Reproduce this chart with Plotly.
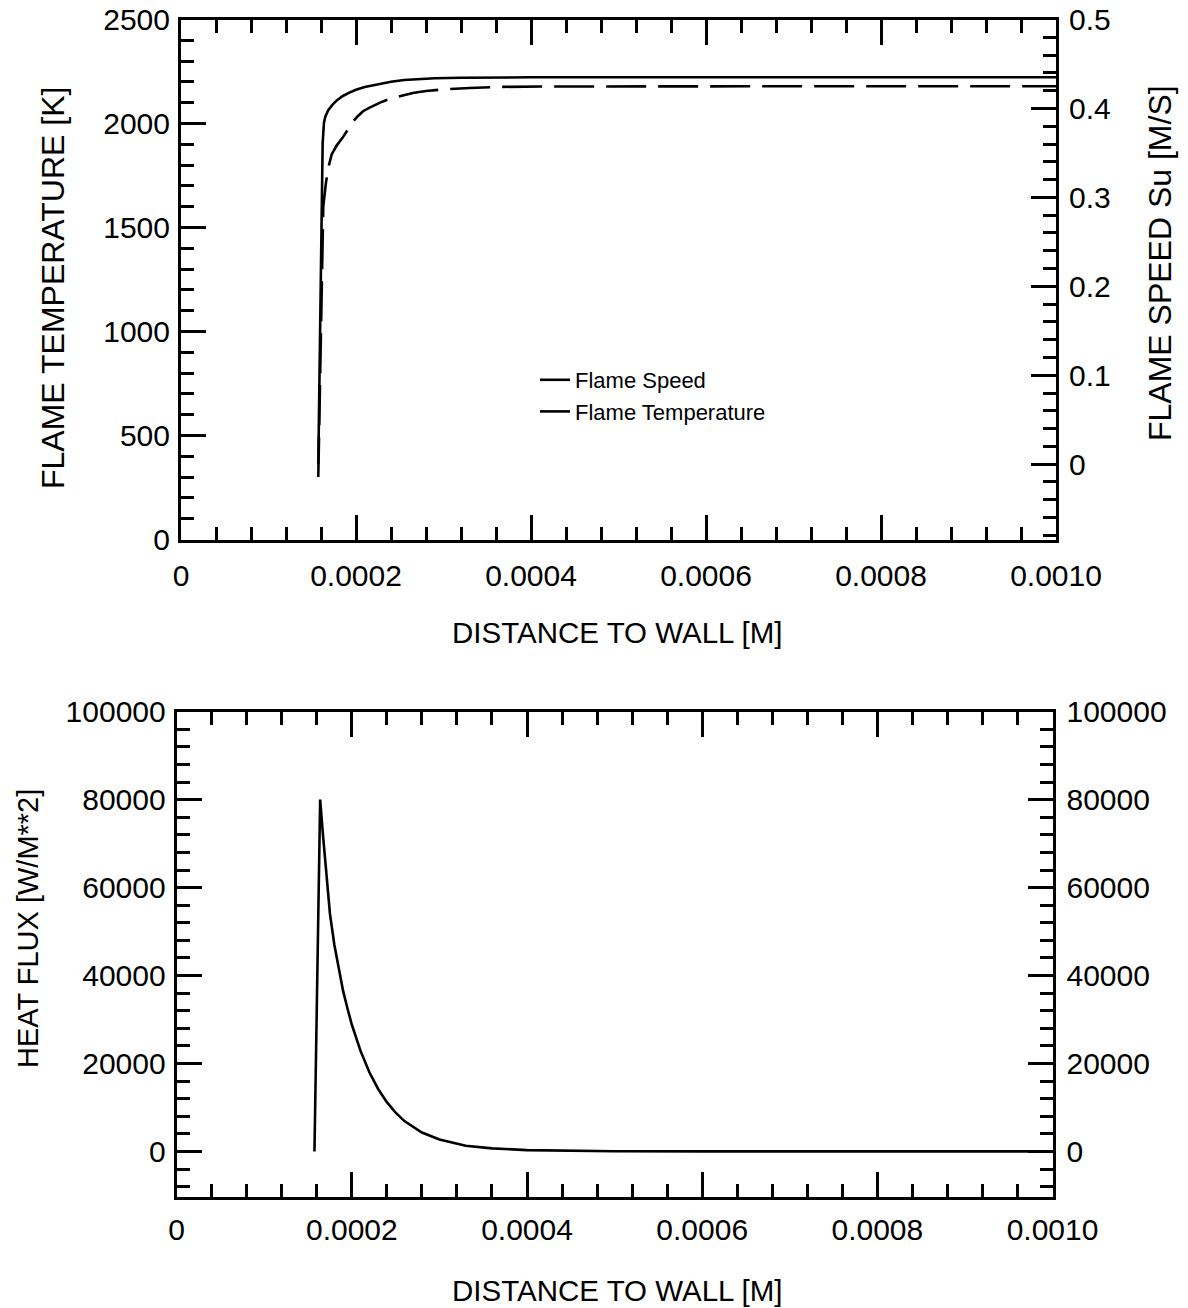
import plotly.graph_objects as go

# ---------------- data ----------------
# Top panel: flame speed (right axis, m/s) and flame temperature (left axis, K)
dist_speed = [0.0001569, 0.0001589, 0.0001608, 0.0001619, 0.0001634, 0.0001650,
              0.0001683, 0.0001730, 0.0001780, 0.0001850, 0.0001930, 0.0002000,
              0.0002100, 0.0002250, 0.0002400, 0.0002550, 0.0002700, 0.0002900,
              0.0003200, 0.0003600, 0.0004000, 0.0006000, 0.0008000, 0.0010000]
flame_speed = [0.000, 0.136, 0.286, 0.361, 0.384, 0.391,
               0.398, 0.404, 0.409, 0.414, 0.418, 0.421,
               0.424, 0.427, 0.430, 0.432, 0.433, 0.434,
               0.4345, 0.435, 0.435, 0.435, 0.435, 0.435]

dist_temp = [0.0001569, 0.0001594, 0.0001626, 0.0001655, 0.0001683, 0.0001722,
             0.0001780, 0.0001846, 0.0001900, 0.0001969, 0.0002020, 0.0002080,
             0.0002150, 0.0002220, 0.0002300, 0.0002400, 0.0002500, 0.0002650,
             0.0002800, 0.0003000, 0.0003300, 0.0003650, 0.0004200, 0.0005000,
             0.0007000, 0.0010000]
flame_temp = [300, 950, 1600, 1710, 1787, 1851,
              1895, 1931, 1965, 2011, 2035, 2059,
              2075, 2090, 2105, 2120, 2132, 2147,
              2156, 2164, 2171, 2176, 2178, 2179,
              2179, 2179]

# Bottom panel: heat flux (W/m^2)
dist_flux = [0.0001573, 0.0001638, 0.0001670, 0.0001700, 0.0001750, 0.0001800,
             0.0001850, 0.0001900, 0.0001950, 0.0002000, 0.0002100, 0.0002200,
             0.0002300, 0.0002400, 0.0002500, 0.0002600, 0.0002800, 0.0003000,
             0.0003300, 0.0003600, 0.0004000, 0.0004500, 0.0005000, 0.0006000,
             0.0008000, 0.0010000]
heat_flux = [0, 80000, 72000, 65500, 54000, 47000,
             41500, 36500, 32500, 28800, 22800, 18000,
             14200, 11200, 8800, 6900, 4300, 2700,
             1300, 700, 300, 120, 40, 0,
             0, 0]

x_tick_vals = [0, 0.0002, 0.0004, 0.0006, 0.0008, 0.0010]
x_tick_text = ["0", "0.0002", "0.0004", "0.0006", "0.0008", "0.0010"]

# ---------------- figure ----------------
W, H = 1188, 1308
FONT = "Liberation Sans, Arial, Helvetica, sans-serif"
BLACK = "black"

def px_x(p):
    return p / W

def px_y(p):
    return 1 - p / H

fig = go.Figure()

fig.add_trace(go.Scatter(x=dist_speed, y=flame_speed, name="Flame Speed",
                         mode="lines", xaxis="x", yaxis="y2",
                         line=dict(color=BLACK, width=2.6)))
fig.add_trace(go.Scatter(x=dist_temp, y=flame_temp, name="Flame Temperature",
                         mode="lines", xaxis="x", yaxis="y",
                         line=dict(color=BLACK, width=2.6, dash="40px,12px")))
fig.add_trace(go.Scatter(x=dist_flux, y=heat_flux, name="Heat Flux",
                         mode="lines", xaxis="x2", yaxis="y3", showlegend=False,
                         line=dict(color=BLACK, width=2.6)))
# empty trace so the right-hand heat flux axis is drawn
fig.add_trace(go.Scatter(x=[None], y=[None], mode="lines", xaxis="x2", yaxis="y4",
                         showlegend=False, hoverinfo="skip"))

tickfont = dict(family=FONT, size=30, color=BLACK)

def xaxis_cfg(domain, anchor, standoff):
    return dict(domain=domain, anchor=anchor, range=[0, 0.001], automargin=False,
                tickmode="array", tickvals=x_tick_vals, ticktext=x_tick_text,
                ticks="inside", ticklen=25, tickwidth=3, tickcolor=BLACK,
                minor=dict(tickmode="linear", tick0=0, dtick=0.00004, ticks="inside",
                           ticklen=13, tickwidth=3, tickcolor=BLACK, showgrid=False),
                showline=True, linewidth=3, linecolor=BLACK, mirror="ticks",
                showgrid=False, zeroline=False, tickfont=tickfont,
                ticklabelstandoff=standoff)

def yaxis_cfg(domain, anchor, rng, dtick, minor_dtick, side, standoff, **kw):
    d = dict(anchor=anchor, range=rng, tickmode="linear", tick0=0, dtick=dtick,
             automargin=False,
             ticks="inside", ticklen=25, tickwidth=3, tickcolor=BLACK,
             minor=dict(tickmode="linear", tick0=0, dtick=minor_dtick, ticks="inside",
                        ticklen=13, tickwidth=3, tickcolor=BLACK, showgrid=False),
             showline=True, linewidth=3, linecolor=BLACK, side=side,
             showgrid=False, zeroline=False, tickfont=tickfont,
             ticklabelstandoff=standoff)
    if domain is not None:
        d["domain"] = domain
    d.update(kw)
    return d

top_xdom = [px_x(181), px_x(1056)]
top_ydom = [px_y(539.5), px_y(19.5)]
bot_xdom = [px_x(176.7), px_x(1052.5)]
bot_ydom = [px_y(1196.7), px_y(711.7)]

fig.update_layout(
    width=W, height=H,
    margin=dict(l=0, r=0, t=0, b=0, autoexpand=False),
    paper_bgcolor="white", plot_bgcolor="white",
    font=dict(family=FONT, color=BLACK),
    xaxis=xaxis_cfg(top_xdom, "y", 7),
    xaxis2=xaxis_cfg(bot_xdom, "y3", 4),
    yaxis=yaxis_cfg(top_ydom, "x", [0, 2500], 500, 100, "left", 2),
    yaxis2=yaxis_cfg(None, "x", [-0.0847, 0.5], 0.1, 0.02, "right", 4,
                     overlaying="y"),
    yaxis3=yaxis_cfg(bot_ydom, "x2", [-10300, 100000], 20000, 4000, "left", 2,
                     tickformat="d"),
    yaxis4=yaxis_cfg(None, "x2", [-10300, 100000], 20000, 4000, "right", 5,
                     tickformat="d", overlaying="y3"),
    showlegend=True,
    legend=dict(x=px_x(535), y=px_y(359), xanchor="left", yanchor="top",
                bgcolor="rgba(0,0,0,0)", borderwidth=0,
                font=dict(family=FONT, size=22, color=BLACK)),
    annotations=[
        dict(text="DISTANCE TO WALL [M]", x=px_x(617), y=px_y(632.5),
             xref="paper", yref="paper", showarrow=False,
             xanchor="center", yanchor="middle",
             font=dict(family=FONT, size=29.5, color=BLACK)),
        dict(text="FLAME TEMPERATURE [K]", x=px_x(53), y=px_y(288),
             xref="paper", yref="paper", showarrow=False, textangle=-90,
             xanchor="center", yanchor="middle",
             font=dict(family=FONT, size=32, color=BLACK)),
        dict(text="FLAME SPEED Su [M/S]", x=px_x(1160), y=px_y(263),
             xref="paper", yref="paper", showarrow=False, textangle=-90,
             xanchor="center", yanchor="middle",
             font=dict(family=FONT, size=32, color=BLACK)),
        dict(text="HEAT FLUX [W/M**2]", x=px_x(28), y=px_y(929),
             xref="paper", yref="paper", showarrow=False, textangle=-90,
             xanchor="center", yanchor="middle",
             font=dict(family=FONT, size=29, color=BLACK)),
        dict(text="DISTANCE TO WALL [M]", x=px_x(617), y=px_y(1290),
             xref="paper", yref="paper", showarrow=False,
             xanchor="center", yanchor="middle",
             font=dict(family=FONT, size=29.5, color=BLACK)),
    ],
)

fig.write_html("out.html")
